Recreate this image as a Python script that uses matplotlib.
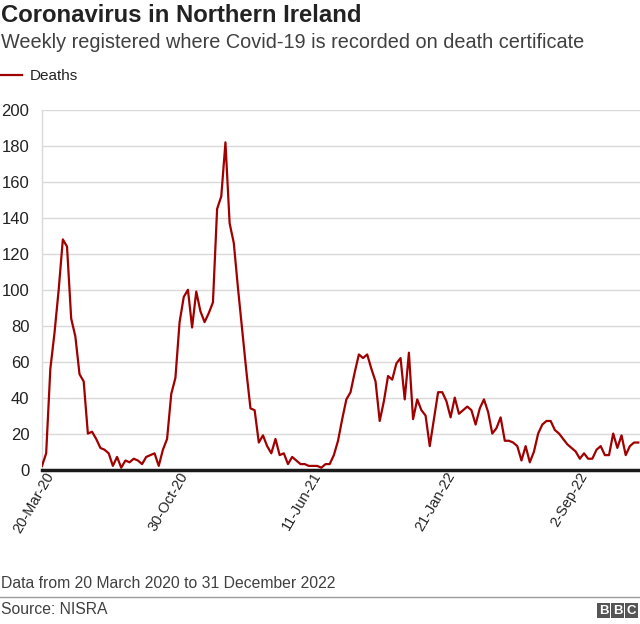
import numpy as np
import pandas as pd
import matplotlib
matplotlib.use("Agg")
from matplotlib import pyplot as plt
from matplotlib.patches import Rectangle
from matplotlib.lines import Line2D
from matplotlib.transforms import ScaledTranslation

plt.rcParams["font.family"] = ["Liberation Sans", "DejaVu Sans"]

# weekly registered deaths, week ending 20 Mar 2020 onwards
deaths = [
  2, 9, 56, 76, 100, 128, 124, 84, 74, 53,
  49, 20, 21, 17, 12, 11, 9, 2, 7, 1,
  5, 4, 6, 5, 3, 7, 8, 9, 2, 11,
  17, 42, 51, 82, 96, 100, 79, 99, 88, 82,
  87, 93, 145, 152, 182, 137, 126, 101, 78, 55,
  34, 33, 15, 19, 13, 9, 17, 8, 9, 3,
  7, 5, 3, 3, 2, 2, 2, 1, 3, 3,
  8, 16, 28, 39, 43, 54, 64, 62, 64, 56,
  49, 27, 38, 52, 50, 59, 62, 39, 65, 28,
  39, 33, 30, 13, 28, 43, 43, 38, 29, 40,
  31, 33, 35, 33, 25, 34, 39, 32, 20, 23,
  29, 16, 16, 15, 13, 5, 13, 4, 10, 20,
  25, 27, 27, 22, 20, 17, 14, 12, 10, 6,
  9, 6, 6, 11, 13, 8, 8, 20, 12, 19,
  8, 13, 15, 15,
]
weeks = pd.date_range("2020-03-20", periods=len(deaths), freq="7D")

tickLabels = ["20-Mar-20", "30-Oct-20", "11-Jun-21", "21-Jan-22", "2-Sep-22"]
tickDates = weeks[::32][:len(tickLabels)]
yTicks = list(range(0, 201, 20))

lineColor = "#a00000"
textDark = "#222222"
textGrey = "#404040"

fig = plt.figure(figsize=(6.4, 6.24), dpi=100)
W, H = 640, 624

ax = fig.add_axes([42 / W, 1 - 469.5 / H, 598 / W, 359.5 / H])
ax.plot(weeks, deaths, color=lineColor, lw=1.6, label="Deaths", zorder=3)

ax.set_ylim(0, 200)
ax.set_yticks(yTicks)
ax.set_xlim(weeks[0], weeks[-1] + pd.Timedelta(days=3))
ax.set_xticks(tickDates)
ax.set_xticklabels([])

# rotated date labels, hung just right of each tick like the original
shift = ScaledTranslation(0.09, -0.035, fig.dpi_scale_trans)
for d, s in zip(tickDates, tickLabels):
  ax.text(d, 0, s, transform=ax.get_xaxis_transform() + shift, rotation=60,
          ha="right", va="center", rotation_mode="anchor", fontsize=10.5,
          color=textDark, clip_on=False)

ax.grid(axis="y", color="#d9d9d9", lw=1)
ax.set_axisbelow(True)
for side in ["top", "right"]:
  ax.spines[side].set_visible(False)
ax.spines["left"].set_color("#d9d9d9")
ax.spines["left"].set_linewidth(1)
ax.spines["bottom"].set_color("#1a1a1a")
ax.spines["bottom"].set_linewidth(2.5)
ax.spines["bottom"].set_zorder(4)

ax.tick_params(axis="y", length=0, pad=9, labelsize=12, labelcolor=textDark)
ax.tick_params(axis="x", length=0)

# header
fig.text(1 / W, 1 - 16 / H, "Coronavirus in Northern Ireland", fontsize=17.2,
         fontweight="bold", color=textDark, va="center", ha="left")
fig.text(1 / W, 1 - 42 / H,
         "Weekly registered where Covid-19 is recorded on death certificate",
         fontsize=14.3, color=textGrey, va="center", ha="left")

fig.legend(loc="upper left", bbox_to_anchor=(-2 / W, 1 - 69 / H), frameon=False,
           fontsize=11, handlelength=1.55, handletextpad=0.5,
           borderpad=0, borderaxespad=0, labelcolor=textDark)

# footer
fig.text(1 / W, 1 - 583 / H, "Data from 20 March 2020 to 31 December 2022",
         fontsize=11.3, color=textGrey, va="center", ha="left")
fig.add_artist(Line2D([0, 1], [1 - 597 / H, 1 - 597 / H], color="#9a9a9a", lw=1))
fig.text(1 / W, 1 - 610 / H, "Source: NISRA", fontsize=11.3, color=textGrey,
         va="center", ha="left")

for k, letter in enumerate("BBC"):
  x0 = 597 + k * 14
  fig.add_artist(Rectangle((x0 / W, 1 - 618 / H), 13 / W, 15 / H,
                           transform=fig.transFigure, color="#555555", lw=0))
  fig.text((x0 + 6.5) / W, 1 - 610.5 / H, letter, fontsize=9.5, fontweight="bold",
           color="white", ha="center", va="center")

fig.savefig("out.png", dpi=100)
